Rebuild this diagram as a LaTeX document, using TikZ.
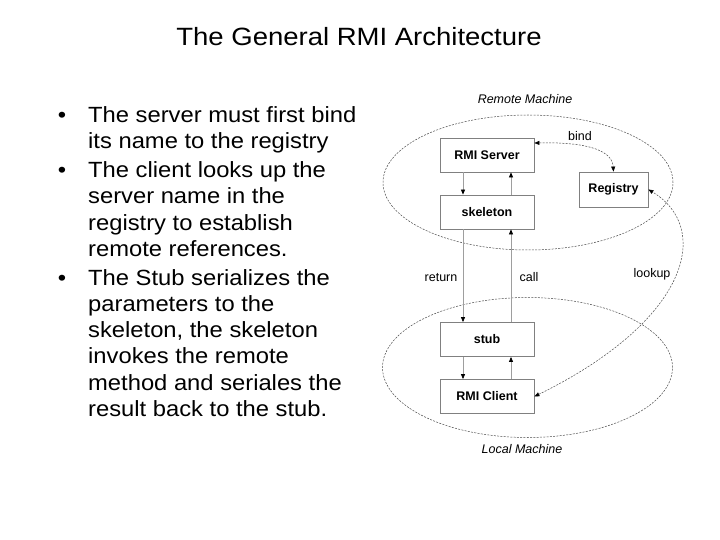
\documentclass[tikz,border=0pt]{standalone}
\usepackage{fontspec}
\setmainfont{Liberation Sans}
\newfontfamily\titlefont[FakeStretch=1.1]{Liberation Sans}
\newfontfamily\bodyfont[FakeStretch=1.08]{Liberation Sans}
\usetikzlibrary{arrows.meta}
\definecolor{boxgray}{gray}{0.5}
\definecolor{linegray}{gray}{0.62}
\definecolor{dashgray}{gray}{0.3}
\begin{document}
\begin{tikzpicture}[x=1pt,y=-1pt,
  titletext/.style={anchor=base,inner sep=0pt,font=\titlefont\fontsize{25}{30}\selectfont},
  bodytext/.style={anchor=base west,inner sep=0pt,font=\bodyfont\fontsize{22}{26}\selectfont},
  bulletmark/.style={anchor=base,inner sep=0pt,font=\bodyfont\fontsize{22}{26}\selectfont},
  box/.style={draw=boxgray,line width=0.8pt,fill=white,minimum width=94pt,minimum height=34pt,inner sep=0pt,font=\fontsize{12.5}{14}\selectfont\bfseries},
  lbl/.style={anchor=base,inner sep=0pt,font=\fontsize{12.5}{14}\selectfont},
  ilbl/.style={anchor=base,inner sep=0pt,font=\fontsize{12.5}{14}\selectfont\itshape},
  tip/.tip={Triangle[length=5pt,width=4pt,color=black]},
  flow/.style={draw=linegray,line width=0.7pt,-tip},
  dcurve/.style={draw=dashgray,line width=0.5pt,dash pattern=on 2pt off 1.3pt},
  ]
\useasboundingbox[fill=white] (0,0) rectangle (720,540);

% title
\node[titletext] (title) at (359,46) {The General RMI Architecture};

% bullets
\node[bulletmark] (b1) at (62,123) {•};
\node[bulletmark] (b2) at (62,178) {•};
\node[bulletmark] (b3) at (62,285) {•};
\node[bodytext] (l1) at (88,123) {The server must first bind};
\node[bodytext] (l2) at (88,149) {its name to the registry};
\node[bodytext] (l3) at (88,178) {The client looks up the};
\node[bodytext] (l4) at (88,204) {server name in the};
\node[bodytext] (l5) at (88,230) {registry to establish};
\node[bodytext] (l6) at (88,256) {remote references.};
\node[bodytext] (l7) at (88,285) {The Stub serializes the};
\node[bodytext] (l8) at (88,311) {parameters to the};
\node[bodytext] (l9) at (88,337) {skeleton, the skeleton};
\node[bodytext] (l10) at (88,363) {invokes the remote};
\node[bodytext] (l11) at (88,390) {method and seriales the};
\node[bodytext] (l12) at (88,416) {result back to the stub.};

% machine ellipses
\draw[dcurve] (528,182.5) ellipse [x radius=145pt, y radius=67.5pt];
\draw[dcurve] (527.5,367.5) ellipse [x radius=145pt, y radius=70pt];
\node[ilbl] (remote) at (525,104) {Remote Machine};
\node[ilbl] (local) at (522,453) {Local Machine};

% boxes
\node[box] (srv) at (487,155) {RMI Server};
\node[box] (skel) at (487,212) {skeleton};
\node[box,minimum width=69pt,minimum height=35pt] (reg) at (613.5,189.5) {Registry};
\node[box] (stub) at (487,339.5) {stub};
\node[box] (cli) at (487,396.5) {RMI Client};

% vertical flows
\draw[flow] ([xshift=-24pt]srv.south) -- ([xshift=-24pt]skel.north);
\draw[flow] ([xshift=24pt]skel.north) -- ([xshift=24pt]srv.south);
\draw[flow] ([xshift=-24pt]skel.south) -- ([xshift=-24pt]stub.north);
\draw[flow] ([xshift=24pt]stub.north) -- ([xshift=24pt]skel.south);
\draw[flow] ([xshift=-24pt]stub.south) -- ([xshift=-24pt]cli.north);
\draw[flow] ([xshift=24pt]cli.north) -- ([xshift=24pt]stub.south);
\node[lbl] (ret) at (441,281) {return};
\node[lbl] (call) at (529,281) {call};

% bind and lookup
\draw[dcurve,tip-tip] ([yshift=12pt]srv.east) .. controls (580,142) and (612,148) .. (reg.north);
\node[lbl] (bind) at (580,141) {bind};
\draw[dcurve,tip-tip] (cli.east) .. controls (690,320) and (712,228) .. (reg.east);
\node[lbl] (lookup) at (652,277) {lookup};
\end{tikzpicture}
\end{document}
